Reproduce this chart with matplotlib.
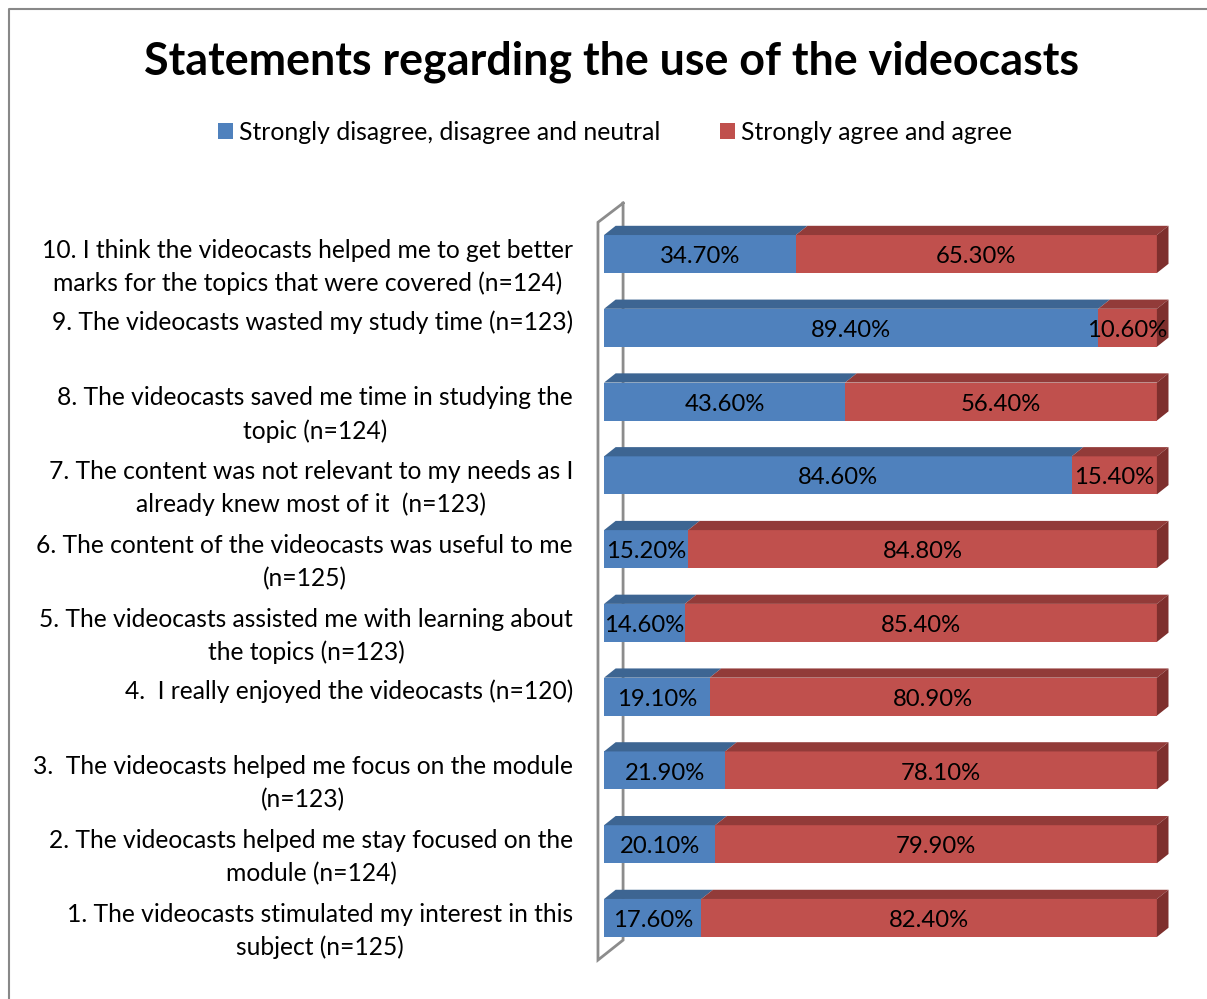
import matplotlib
matplotlib.use("Agg")
import matplotlib.pyplot as plt
from matplotlib.patches import Polygon, Patch
from matplotlib.lines import Line2D

plt.rcParams['font.family'] = ['Lato', 'DejaVu Sans']

# data (item 1 at bottom -> item 10 at top)
statements = [
    "1. The videocasts stimulated my interest in this\nsubject (n=125)",
    "2. The videocasts helped me stay focused on the\nmodule (n=124)",
    "3.  The videocasts helped me focus on the module\n(n=123)",
    "4.  I really enjoyed the videocasts (n=120)",
    "5. The videocasts assisted me with learning about\nthe topics (n=123)",
    "6. The content of the videocasts was useful to me\n(n=125)",
    "7. The content was not relevant to my needs as I\nalready knew most of it  (n=123)",
    "8. The videocasts saved me time in studying the\ntopic (n=124)",
    "9. The videocasts wasted my study time (n=123)",
    "10. I think the videocasts helped me to get better\nmarks for the topics that were covered (n=124)",
]
disagree = [17.6, 20.1, 21.9, 19.1, 14.6, 15.2, 84.6, 43.6, 89.4, 34.7]
agree = [82.4, 79.9, 78.1, 80.9, 85.4, 84.8, 15.4, 56.4, 10.6, 65.3]
series_names = ["Strongly disagree, disagree and neutral", "Strongly agree and agree"]

front = ["#4F81BD", "#C0504D"]
top = ["#3D6592", "#923B39"]
side = ["#33557D", "#7E2F2D"]

W, H = 1207, 999
fig = plt.figure(figsize=(W / 100, H / 100), dpi=100)
ax = fig.add_axes([593 / W, 22 / H, 586 / W, 782 / H])
ax.set_xlim(-2, 104)
ax.set_ylim(-0.8, 9.8)
ax.axis("off")

h = 0.515     # bar height
dx, dy = 2.1, 0.125   # 3d depth offset

# axis wall
wall = dict(color="#8C8C8C", lw=2, zorder=1, solid_joinstyle="miter")
ax.plot([3.44, -1.1, -1.1, 3.44, 3.44], [9.69, 9.43, -0.57, -0.30, 9.69], **wall)

ys = list(range(len(statements)))
for k, vals in enumerate([disagree, agree]):
    lefts = [0] * len(vals) if k == 0 else disagree
    ax.barh(ys, vals, left=lefts, height=h, color=front[k], zorder=3)
    for y, l, v in zip(ys, lefts, vals):
        r = l + v
        yt = y + h / 2
        ax.add_patch(Polygon([(l, yt), (l + dx, yt + dy), (r + dx, yt + dy), (r, yt)],
                             closed=True, fc=top[k], ec="none", zorder=3))
        if k == 1:
            ax.add_patch(Polygon([(r, y - h / 2), (r, yt), (r + dx, yt + dy), (r + dx, y - h / 2 + dy)],
                                 closed=True, fc=side[k], ec="none", zorder=3))
        ax.text(l + v / 2, y - 0.035, f"{v:.2f}%", ha="center", va="center",
                fontsize=17.2, color="black", zorder=5)

# category labels
for y, s in zip(ys, statements):
    if "\n" in s:
        yy = y + 0.07 - 0.245
    else:
        yy = y + 0.07
    ax.text(-5.6, yy, s, ha="right", va="center", multialignment="center",
            fontsize=17.7, linespacing=1.5, clip_on=False)

fig.text(611 / W, 1 - 62 / H, "Statements regarding the use of the videocasts",
         ha="center", va="center", fontsize=32.3, fontweight="bold")

handles = [Patch(facecolor=front[0]), Patch(facecolor=front[1])]
fig.legend(handles, series_names, loc="center", bbox_to_anchor=(615 / W, 1 - 132 / H),
           ncol=2, frameon=False, fontsize=17.8, handlelength=0.6, handleheight=0.6,
           handletextpad=0.25, columnspacing=2.4)

# chart frame (top and left edge)
fig.add_artist(Line2D([9 / W, 9 / W, 1], [0, 1 - 9 / H, 1 - 9 / H], color="#888888", lw=1.5,
                      transform=fig.transFigure))

fig.savefig("out.png", dpi=100)
